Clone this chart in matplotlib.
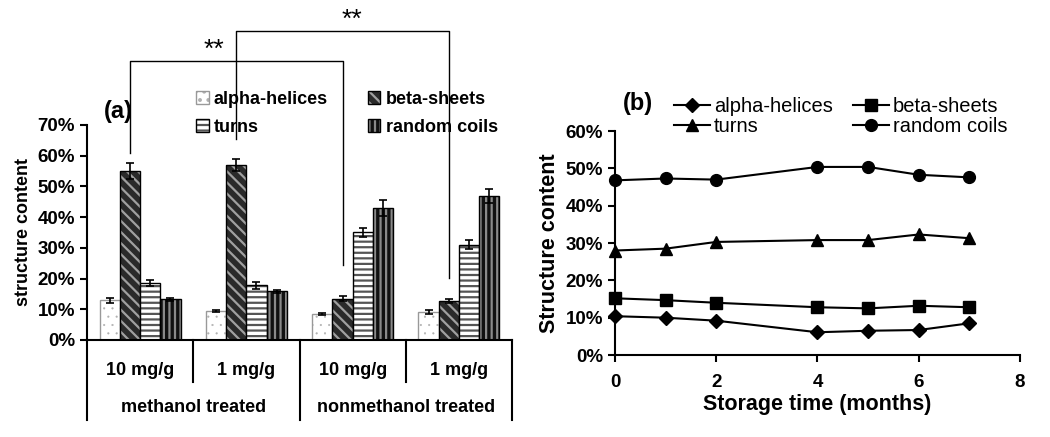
import matplotlib
matplotlib.use("Agg")
import matplotlib.pyplot as plt
import matplotlib.transforms as mtransforms
from matplotlib.ticker import PercentFormatter
import numpy as np

plt.rcParams['font.family'] = ['Liberation Sans', 'DejaVu Sans']
plt.rcParams['hatch.linewidth'] = 1.6

# panel (a) data
dose_labels = ["10 mg/g", "1 mg/g", "10 mg/g", "1 mg/g"]
treat_labels = ["methanol treated", "nonmethanol treated"]
structures = ["alpha-helices", "beta-sheets", "turns", "random coils"]
alpha_a = [0.130, 0.095, 0.085, 0.092]
beta_a = [0.550, 0.570, 0.135, 0.127]
turns_a = [0.185, 0.178, 0.350, 0.310]
coils_a = [0.133, 0.158, 0.430, 0.470]
alpha_err = [0.008, 0.004, 0.004, 0.006]
beta_err = [0.025, 0.020, 0.008, 0.006]
turns_err = [0.010, 0.012, 0.015, 0.015]
coils_err = [0.005, 0.006, 0.025, 0.023]

# panel (b) data
months = [0, 1, 2, 4, 5, 6, 7]
alpha_b = [0.104, 0.100, 0.092, 0.061, 0.065, 0.067, 0.085]
beta_b = [0.152, 0.147, 0.140, 0.128, 0.125, 0.132, 0.128]
turns_b = [0.280, 0.285, 0.303, 0.308, 0.308, 0.323, 0.313]
coils_b = [0.468, 0.473, 0.470, 0.504, 0.504, 0.483, 0.476]

fig = plt.figure(figsize=(10.5, 4.37), dpi=100)

# ---------------- panel (a) ----------------
ax = fig.add_axes([0.0829, 0.222, 0.4047, 0.492])
x = np.arange(len(dose_labels))
w = 0.19
styles = [
    dict(face="white", hatch_col="#b0b0b0", hatch="..", hlw=0.3, edge="#999999"),
    dict(face="#2a2a2a", hatch_col="#a0a0a0", hatch="\\\\\\", hlw=1.6, edge="black"),
    dict(face="white", hatch_col="#555555", hatch="---", hlw=1.6, edge="black"),
    dict(face="#111111", hatch_col="#8a8a8a", hatch="|||", hlw=1.6, edge="black"),
]
values = [alpha_a, beta_a, turns_a, coils_a]
errs = [alpha_err, beta_err, turns_err, coils_err]
handles = []
for i, (vals, err, st) in enumerate(zip(values, errs, styles)):
    pos = x + (i - 1.5) * w
    with plt.rc_context({'hatch.linewidth': st["hlw"]}):
        b = ax.bar(pos, vals, w, color=st["face"], edgecolor=st["hatch_col"],
                   hatch=st["hatch"], linewidth=0, label=structures[i])
    o = ax.bar(pos, vals, w, fill=False, edgecolor=st["edge"], linewidth=1.0)
    ax.errorbar(pos, vals, yerr=err, fmt="none", ecolor="black",
                elinewidth=1.2, capsize=3, capthick=1.2)
    handles.append((b[0], o[0]))

ax.set_xlim(-0.5, 3.5)
ax.set_ylim(0, 0.7)
ax.set_yticks(np.arange(0, 0.71, 0.1))
ax.yaxis.set_major_formatter(PercentFormatter(1.0, decimals=0))
ax.set_xticks([])
for s in ["top", "right"]:
    ax.spines[s].set_visible(False)
for s in ["left", "bottom"]:
    ax.spines[s].set_linewidth(1.5)
ax.tick_params(axis="y", direction="out", length=5, width=1.5, labelsize=13.5)
for lab in ax.get_yticklabels():
    lab.set_fontweight("bold")
ax.set_ylabel("structure content", fontsize=13, fontweight="bold", labelpad=4)

# category table under the axis
trans = mtransforms.blended_transform_factory(ax.transData, ax.transAxes)
for xs in [0.5, 2.5]:
    ax.plot([xs, xs], [0, -0.195], color="black", lw=1.5, transform=trans, clip_on=False)
for xs in [-0.5, 1.5, 3.5]:
    ax.plot([xs, xs], [0, -0.372], color="black", lw=1.5, transform=trans, clip_on=False)
for xi, lab in zip(x, dose_labels):
    ax.text(xi, -0.14, lab, transform=trans, ha="center", va="center",
            fontsize=13, fontweight="bold")
for k, lab in enumerate(treat_labels):
    ax.text(2 * k + 0.5, -0.316, lab, transform=trans, ha="center", va="center",
            fontsize=13, fontweight="bold")

# significance brackets
b0 = x[0] - 0.5 * w
b1 = x[1] - 0.5 * w
b2 = x[2] - 0.5 * w
b3 = x[3] - 0.5 * w
ax.plot([b0, b0, b2, b2], [0.608, 0.909, 0.909, 0.244], color="black", lw=1.0, clip_on=False)
ax.plot([b1, b1, b3, b3], [0.655, 1.006, 1.006, 0.202], color="black", lw=1.0, clip_on=False)
ax.text(0.69, 0.905, "**", ha="center", va="bottom", fontsize=19)
ax.text(1.99, 1.002, "**", ha="center", va="bottom", fontsize=19)

ax.text(0.073, 1.065, "(a)", transform=ax.transAxes, ha="center", va="center",
        fontsize=17, fontweight="bold")
order = [0, 2, 1, 3]
ax.legend([handles[i] for i in order], [structures[i] for i in order],
          ncol=2, frameon=False, loc="upper left", bbox_to_anchor=(0.218, 1.235),
          prop=dict(size=13, weight="bold"), handlelength=0.7, handleheight=0.7,
          handletextpad=0.3, columnspacing=2.2, labelspacing=0.6)

# ---------------- panel (b) ----------------
bx = fig.add_axes([0.5857, 0.1876, 0.3857, 0.5124])
lines = []
markers = ["D", "s", "^", "o"]
msizes = [7, 8, 8.5, 8.5]
for vals, m, ms, name in zip([alpha_b, beta_b, turns_b, coils_b], markers, msizes, structures):
    ln, = bx.plot(months, vals, color="black", lw=1.5, marker=m, markersize=ms,
                  label=name, clip_on=False, zorder=3)
    lines.append(ln)
bx.set_xlim(0, 8)
bx.set_ylim(0, 0.6)
bx.set_xticks([0, 2, 4, 6, 8])
bx.set_yticks(np.arange(0, 0.61, 0.1))
bx.yaxis.set_major_formatter(PercentFormatter(1.0, decimals=0))
for s in ["top", "right"]:
    bx.spines[s].set_visible(False)
for s in ["left", "bottom"]:
    bx.spines[s].set_linewidth(1.5)
bx.tick_params(direction="out", length=5, width=1.5, labelsize=13.5)
bx.tick_params(axis="x", pad=9)
for lab in bx.get_yticklabels() + bx.get_xticklabels():
    lab.set_fontweight("bold")
bx.set_ylabel("Structure content", fontsize=15.5, fontweight="bold", labelpad=4)
bx.set_xlabel("Storage time (months)", fontsize=15.5, fontweight="bold", labelpad=2)
bx.text(0.057, 1.125, "(b)", transform=bx.transAxes, ha="center", va="center",
        fontsize=17, fontweight="bold")
bx.legend([lines[i] for i in order], [structures[i] for i in order],
          ncol=2, frameon=False, loc="upper left", bbox_to_anchor=(0.1, 1.235),
          fontsize=14.5, handlelength=1.8, handletextpad=0.2,
          columnspacing=1.0, labelspacing=0.05)

fig.savefig("out.png", dpi=100)
